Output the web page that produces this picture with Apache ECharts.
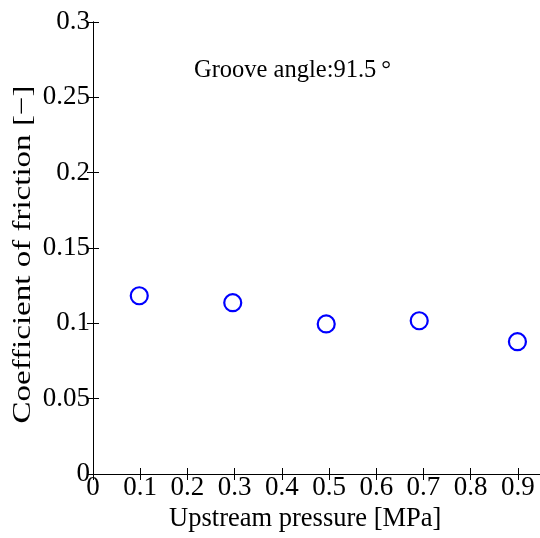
<!DOCTYPE html>
<html>
<head>
<meta charset="utf-8">
<script src="https://cdn.jsdelivr.net/npm/echarts@6/dist/echarts.min.js"></script>
<style>html,body{margin:0;padding:0;background:#fff;}#c{width:540px;height:538px;}</style>
</head>
<body>
<div id="c"></div>
<script>
var pressure = [0.098, 0.296, 0.494, 0.691, 0.899];
var friction = [0.1183, 0.1137, 0.0996, 0.1017, 0.0878];
var xTitle = 'Upstream pressure [MPa]';
var yTitle = 'Coefficient of friction [\u2212]';
var note = 'Groove angle:91.5\u2009\u00b0';

var font = 'Liberation Serif';
var fs = 27;
var axisLine = {show: true, lineStyle: {color: '#000', width: 1}};
var tick = {show: true, inside: true, length: 6, lineStyle: {color: '#000', width: 1}};

var chart = echarts.init(document.getElementById('c'), null, {renderer: 'canvas'});
chart.setOption({
  animation: false,
  backgroundColor: '#fff',
  grid: {left: 93, right: -1.5, top: 22, bottom: 64, containLabel: false, outerBoundsMode: 'none'},
  xAxis: [{
    type: 'value', position: 'bottom', min: 0, max: 0.95, interval: 0.1,
    axisLine: axisLine, axisTick: tick, splitLine: {show: false},
    axisLabel: {show: true, showMaxLabel: false, margin: 0, color: '#000', fontFamily: font, fontSize: fs,
      formatter: function (v) { return v > 0.91 ? '' : String(Math.round(v * 10) / 10); }},
    name: xTitle, nameLocation: 'middle', nameGap: 32,
    nameTextStyle: {color: '#000', fontFamily: font, fontSize: 26.5, padding: [0, 24, 0, 0]}
  }, {
    type: 'value', position: 'top', min: 0, max: 0.95, interval: 0.1,
    axisLine: axisLine, axisTick: tick, axisLabel: {show: false}, splitLine: {show: false}
  }],
  yAxis: [{
    type: 'value', position: 'left', min: 0, max: 0.3, interval: 0.05,
    axisLine: axisLine, axisTick: tick, splitLine: {show: false},
    axisLabel: {show: true, margin: 3, color: '#000', fontFamily: font, fontSize: fs,
      formatter: function (v) { return String(Math.round(v * 100) / 100); }}
  }, {
    type: 'value', position: 'right', min: 0, max: 0.3, interval: 0.05,
    axisLine: axisLine, axisTick: tick, axisLabel: {show: false}, splitLine: {show: false}
  }],
  graphic: [{
    type: 'text', left: 291 - 97, top: 72 - 14,
    style: {text: note, fill: '#000', font: '24.5px "' + font + '"'}
  }, {
    type: 'text', x: 23, y: 254.5, rotation: Math.PI / 2, scaleX: 1.27, scaleY: 1,
    style: {text: yTitle, fill: '#000', font: '26px "' + font + '"', align: 'center', verticalAlign: 'middle'}
  }],
  series: [{
    type: 'scatter', xAxisIndex: 0, yAxisIndex: 0,
    data: pressure.map(function (p, i) { return [p, friction[i]]; }),
    symbol: 'circle', symbolSize: 17,
    itemStyle: {color: 'rgba(0,0,0,0)', borderColor: '#0000ff', borderWidth: 2.2, opacity: 1}
  }]
});
</script>
</body>
</html>
